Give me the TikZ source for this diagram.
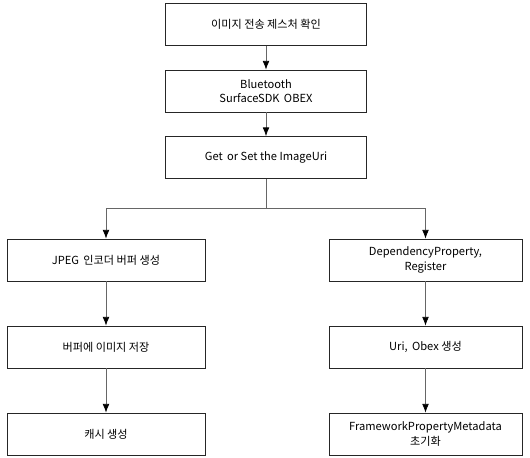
\documentclass[tikz,border=0pt]{standalone}
\usepackage{fontspec}
\setmainfont{Noto Sans CJK KR}
\usetikzlibrary{arrows.meta}
\tikzset{
  stepbox/.style={draw=black!85, line width=0.6pt, minimum height=1.26cm, align=center, inner sep=1pt, font=\fontsize{9.5}{12.5}\selectfont},
  link/.style={draw=black!60, line width=0.6pt, -{Latex[length=2.6mm,width=2mm,color=black]}}
}
\begin{document}
\begin{tikzpicture}[x=0.03cm, y=-0.03cm]
 \useasboundingbox (0,0) rectangle (530,458);
 % upper chain
 \node[stepbox, minimum width=6.05cm] (gesture) at (266,24.5) {이미지 전송 제스처 확인};
 \node[stepbox, minimum width=6.05cm] (bt) at (266,91) {Bluetooth\\SurfaceSDK\, OBEX};
 \node[stepbox, minimum width=6.05cm] (uri) at (266,157.5) {Get\, or Set the ImageUri};
 \coordinate (split) at (266,208);
 % left branch
 \node[stepbox, minimum width=5.94cm] (jpeg) at (106,260) {JPEG\, 인코더 버퍼 생성};
 \node[stepbox, minimum width=5.94cm] (save) at (106,347) {버퍼에 이미지 저장};
 \node[stepbox, minimum width=5.94cm] (cache) at (106,434) {캐시 생성};
 % right branch
 \node[stepbox, minimum width=5.79cm] (dep) at (425.5,260) {DependencyProperty,\\Register};
 \node[stepbox, minimum width=5.79cm] (obex) at (425.5,347) {Uri,\, Obex 생성};
 \node[stepbox, minimum width=5.79cm] (meta) at (425.5,434) {FrameworkPropertyMetadata\\초기화};

 \draw[link] (gesture) -- (bt);
 \draw[link] (bt) -- (uri);
 \draw[draw=black!60, line width=0.6pt] (uri) -- (split);
 \draw[link] (split) -| (jpeg.north);
 \draw[link] (split) -| (dep.north);
 \draw[link] (jpeg) -- (save);
 \draw[link] (save) -- (cache);
 \draw[link] (dep) -- (obex);
 \draw[link] (obex) -- (meta);
\end{tikzpicture}
\end{document}
